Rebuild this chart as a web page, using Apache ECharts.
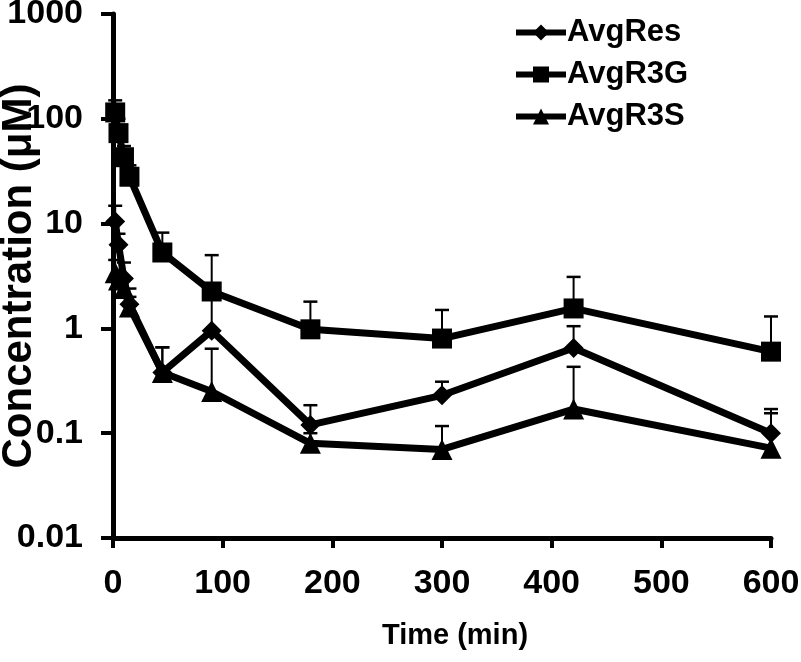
<!DOCTYPE html>
<html>
<head>
<meta charset="utf-8">
<script src="https://cdn.jsdelivr.net/npm/echarts@6/dist/echarts.min.js"></script>
<style>html,body{margin:0;padding:0;background:#fff;}#c{width:801px;height:662px;}</style>
</head>
<body>
<div id="c"></div>
<script>
var times = [2, 5, 10, 15, 45, 90, 180, 300, 420, 600];
var avgRes = [10.5, 6.3, 3.0, 1.7, 0.38, 0.95, 0.12, 0.23, 0.65, 0.10];
var avgResUp = [14.8, 8.0, 4.25, 2.4, 0.66, 2.0, 0.185, 0.31, 1.05, 0.17];
var avgR3G = [115, 73, 43, 28, 5.3, 2.25, 0.98, 0.80, 1.55, 0.60];
var avgR3GUp = [150, 100, 55, 36, 8.2, 5.0, 1.8, 1.5, 3.1, 1.3];
var avgR3S = [3.4, 2.9, 2.4, 1.6, 0.38, 0.25, 0.080, 0.070, 0.17, 0.072];
var avgR3SUp = [4.5, 3.6, 2.9, 2.0, 0.66, 0.64, 0.10, 0.117, 0.43, 0.155];
var seriesNames = ['AvgRes', 'AvgR3G', 'AvgR3S'];
var yTicks = [0.01, 0.1, 1, 10, 100, 1000];
var xTicks = [0, 100, 200, 300, 400, 500, 600];

function pairs(v) { return times.map(function (t, i) { return [t, v[i]]; }); }
function errData(v, up) { return times.map(function (t, i) { return [t, v[i], up[i]]; }); }

function errSeries(v, up) {
  return {
    type: 'custom',
    silent: true,
    z: 1,
    data: errData(v, up),
    renderItem: function (params, api) {
      var p0 = api.coord([api.value(0), api.value(1)]);
      var p1 = api.coord([api.value(0), api.value(2)]);
      var hw = 7;
      return {
        type: 'group',
        children: [
          { type: 'line', shape: { x1: p0[0], y1: p0[1], x2: p1[0], y2: p1[1] }, style: { stroke: '#000', lineWidth: 2 } },
          { type: 'line', shape: { x1: p1[0] - hw, y1: p1[1], x2: p1[0] + hw, y2: p1[1] }, style: { stroke: '#000', lineWidth: 2.5 } }
        ]
      };
    }
  };
}

function lineSeries(name, v, sym, size) {
  return {
    name: name,
    type: 'line',
    data: pairs(v),
    z: 3,
    symbol: sym,
    symbolSize: size,
    showAllSymbol: true,
    lineStyle: { color: '#000', width: 7 },
    itemStyle: { color: '#000', borderWidth: 0 },
    emphasis: { disabled: true },
    animation: false
  };
}

var chart = echarts.init(document.getElementById('c'), null, { renderer: 'canvas' });
var font = 'Liberation Sans, Arial, sans-serif';
chart.setOption({
  animation: false,
  backgroundColor: '#fff',
  grid: { left: 113, right: 30, top: 14, bottom: 124, containLabel: false, outerBoundsMode: 'none' },
  legend: {
    orient: 'vertical',
    left: 508,
    top: 12,
    itemWidth: 50,
    itemHeight: 20,
    itemGap: 11,
    data: seriesNames,
    lineStyle: { width: 6 },
    textStyle: { fontFamily: font, fontWeight: 'bold', fontSize: 31, color: '#000', padding: [0, 0, 0, -4] }
  },
  xAxis: {
    type: 'value',
    min: 0,
    max: 600,
    interval: 100,
    name: 'Time (min)',
    nameLocation: 'middle',
    nameGap: 83,
    nameMoveOverlap: false,
    nameTextStyle: { fontFamily: font, fontWeight: 'bold', fontSize: 29, color: '#000', padding: [0, 0, 0, 26] },
    axisLine: { lineStyle: { color: '#000', width: 5 } },
    axisTick: { show: true, length: 10, lineStyle: { color: '#000', width: 4 } },
    axisLabel: {
      margin: 29,
      fontFamily: font, fontWeight: 'bold', fontSize: 34, color: '#000',
      formatter: function (v) { return xTicks.indexOf(v) >= 0 ? String(v) : ''; }
    },
    splitLine: { show: false }
  },
  yAxis: {
    type: 'log',
    logBase: 10,
    min: 0.01,
    max: 1000,
    name: 'Concentration (\u03bcM)',
    nameLocation: 'middle',
    nameGap: 73,
    nameRotate: 90,
    nameMoveOverlap: false,
    nameTextStyle: { fontFamily: font, fontWeight: 'bold', fontSize: 42, color: '#000' },
    axisLine: { show: true, lineStyle: { color: '#000', width: 5 } },
    axisTick: { show: true, length: 12, lineStyle: { color: '#000', width: 4 } },
    axisLabel: {
      margin: 30,
      fontFamily: font, fontWeight: 'bold', fontSize: 34, color: '#000',
      formatter: function (v) {
        for (var i = 0; i < yTicks.length; i++) {
          if (Math.abs(Math.log10(v) - Math.log10(yTicks[i])) < 1e-6) return String(yTicks[i]);
        }
        return '';
      }
    },
    splitLine: { show: false }
  },
  series: [
    errSeries(avgRes, avgResUp),
    errSeries(avgR3G, avgR3GUp),
    errSeries(avgR3S, avgR3SUp),
    lineSeries('AvgRes', avgRes, 'diamond', 20),
    lineSeries('AvgR3G', avgR3G, 'rect', 20),
    lineSeries('AvgR3S', avgR3S, 'triangle', 21)
  ]
});
</script>
</body>
</html>
